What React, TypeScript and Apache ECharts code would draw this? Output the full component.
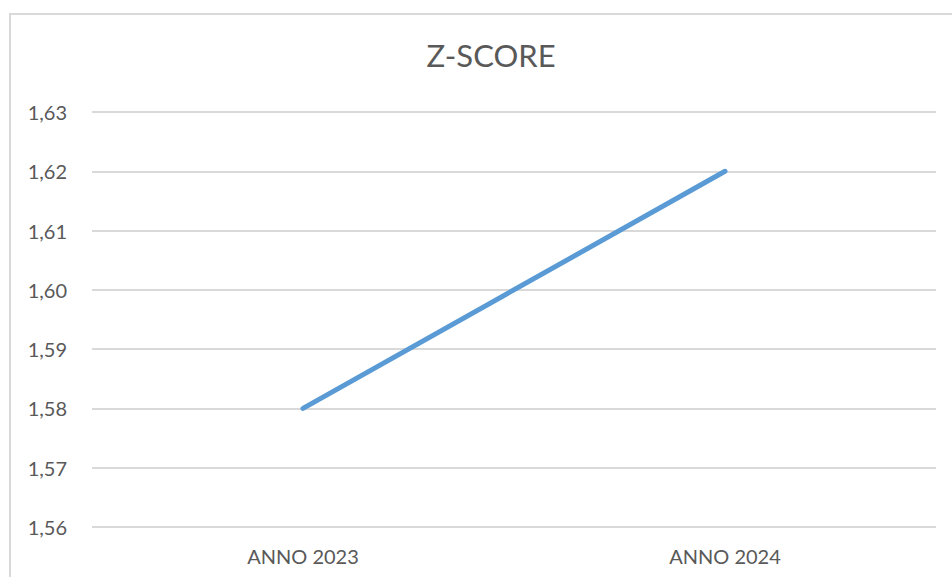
import React, { useEffect, useRef } from "react";
import * as echarts from "echarts";

const categories = ["ANNO 2023", "ANNO 2024"];
const zScores = [1.58, 1.62];
const titleText = "Z-SCORE";

export default function App() {
  const ref = useRef<HTMLDivElement>(null);
  useEffect(() => {
    if (!ref.current) return;
    const chart = echarts.init(ref.current, undefined, { renderer: "svg" });
    chart.setOption({
      animation: false,
      backgroundColor: "#ffffff",
      title: {
        text: titleText,
        left: 486,
        textAlign: "center",
        top: 34,
        textStyle: { fontFamily: "Lato", fontSize: 31, fontWeight: "normal", color: "#595959" },
      },
      graphic: [
        {
          type: "rect",
          shape: { x: 10, y: 14, width: 1000, height: 700 },
          style: { fill: "none", stroke: "#d9d9d9", lineWidth: 2 },
          silent: true,
        },
      ],
      grid: { left: 92, right: 16, top: 112, bottom: 50, containLabel: false },
      xAxis: {
        type: "category",
        data: categories,
        boundaryGap: true,
        axisLine: { show: false },
        axisTick: { show: false },
        axisLabel: { color: "#595959", fontFamily: "Lato", fontSize: 20, margin: 19 },
      },
      yAxis: {
        type: "value",
        min: 1.56,
        max: 1.63,
        interval: 0.01,
        axisLine: { show: false },
        axisTick: { show: false },
        splitLine: { lineStyle: { color: "#d9d9d9", width: 2 } },
        axisLabel: {
          color: "#595959",
          fontFamily: "Lato",
          fontSize: 20,
          margin: 25,
          formatter: (v: number) => v.toFixed(2).replace(".", ","),
        },
      },
      series: [
        {
          type: "line",
          data: zScores,
          symbol: "none",
          lineStyle: { color: "#5b9bd5", width: 5, cap: "round" },
        },
      ],
    });
    return () => chart.dispose();
  }, []);
  return (
    <div
      ref={ref}
      style={{ position: "fixed", left: 0, top: 0, width: 952, height: 577 }}
    />
  );
}
